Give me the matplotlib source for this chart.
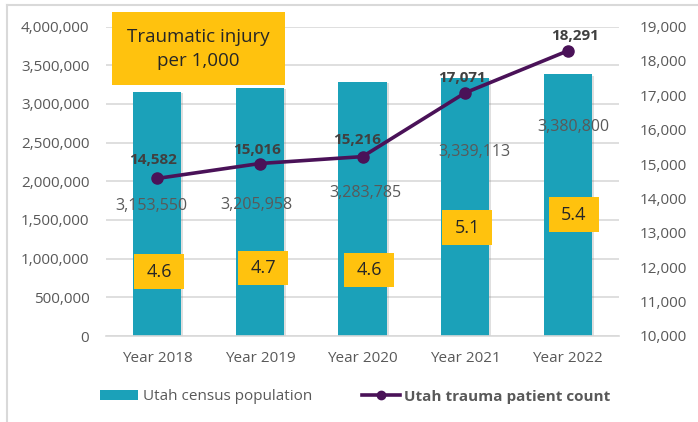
import numpy as np
import matplotlib
matplotlib.use('Agg')
import matplotlib.pyplot as plt
from matplotlib.patches import Rectangle, Patch
from matplotlib.lines import Line2D
from matplotlib.ticker import FuncFormatter, MultipleLocator
import matplotlib.patheffects as pe

plt.rcParams['font.family'] = ['Open Sans', 'DejaVu Sans']

# data
years = ['Year 2018', 'Year 2019', 'Year 2020', 'Year 2021', 'Year 2022']
population = [3153550, 3205958, 3283785, 3339113, 3380800]
patients = [14582, 15016, 15216, 17071, 18291]
rate_per_1000 = [4.6, 4.7, 4.6, 5.1, 5.4]

# label placement (layout only)
pop_label_y = [1.68e6, 1.69e6, 1.85e6, 2.38e6, 2.70e6]
pop_label_dx = [-0.06, -0.03, 0.03, 0.09, 0.06]
pat_label_off = [(-3, 13), (-2, 10), (-4, 12), (-2, 11), (5, 11)]
rate_box_y = [0.833e6, 0.879e6, 0.853e6, 1.40e6, 1.564e6]
rate_box_dx = [0.02, 0.03, 0.065, 0.02, 0.06]

TEAL = '#1BA1B9'
PURPLE = '#4A1258'
YELLOW = '#FFC20E'
GRAY = '#595959'
GRID = '#D9D9D9'

fig = plt.figure(figsize=(6.98, 4.22), dpi=100)
ax = fig.add_axes([106/698, 1-336/422, 513/698, 309.5/422])
ax2 = ax.twinx()

x = np.arange(len(years))
bars = ax.bar(x, population, width=0.47, color=TEAL, zorder=2)
for b in bars:
    b.set_path_effects([pe.SimplePatchShadow(offset=(1.5, -1), alpha=0.25, shadow_rgbFace='gray'),
                        pe.Normal()])

ax.set_xlim(-0.5, len(years) - 0.5)
ax.set_ylim(0, 4000000)
ax.yaxis.set_major_locator(MultipleLocator(500000))
ax.yaxis.set_major_formatter(FuncFormatter(lambda v, p: f'{int(v):,}'))
ax.grid(axis='y', color=GRID, linewidth=1.2, zorder=0)
ax.set_axisbelow(True)
ax.set_xticks(x)
ax.set_xticklabels(years)
for s in ['top', 'left', 'right']:
    ax.spines[s].set_visible(False)
ax.spines['bottom'].set_color(GRID)
ax.spines['bottom'].set_linewidth(1.2)
ax.tick_params(axis='y', length=0, pad=12, labelsize=11, labelcolor=GRAY)
ax.tick_params(axis='x', length=0, pad=11, labelsize=11, labelcolor=GRAY)

ax2.set_ylim(10000, 19000)
ax2.yaxis.set_major_locator(MultipleLocator(1000))
ax2.yaxis.set_major_formatter(FuncFormatter(lambda v, p: f'{int(v):,}'))
for s in ax2.spines.values():
    s.set_visible(False)
ax2.tick_params(axis='y', length=0, pad=15, labelsize=11, labelcolor=GRAY)

ax2.plot(x, patients, color=PURPLE, linewidth=2.6, marker='o', markersize=8, zorder=5)

# bar value labels
for i, v in enumerate(population):
    ax.text(x[i] + pop_label_dx[i], pop_label_y[i], f'{v:,}', ha='center', va='center',
            fontsize=11.5, color=GRAY, zorder=6)

# line value labels
for i, v in enumerate(patients):
    ax2.annotate(f'{v:,}', (x[i], v), xytext=pat_label_off[i], textcoords='offset points',
                 ha='center', va='center', fontsize=11, fontweight='bold', color='#404040', zorder=7)

# rate boxes
bw, bh = 0.49, 452000
for i, r in enumerate(rate_per_1000):
    cx = x[i] + rate_box_dx[i]
    ax.add_patch(Rectangle((cx - bw/2, rate_box_y[i] - bh/2), bw, bh, facecolor=YELLOW,
                           edgecolor='none', zorder=4))
    ax.text(cx, rate_box_y[i], f'{r}', ha='center', va='center', fontsize=13,
            color='#262626', zorder=6)

# title box
fig.patches.append(Rectangle((112/698, 1-85/422), 173/698, 73/422, transform=fig.transFigure,
                             facecolor=YELLOW, edgecolor='none', zorder=10))
fig.text(198.5/698, 1-49/422, 'Traumatic injury\nper 1,000', ha='center', va='center',
         fontsize=13.5, color='#262626', linespacing=1.45, zorder=11)

# frame
fig.lines.append(Line2D([6.5/698, 6.5/698], [0, 1-5/422], transform=fig.transFigure,
                        color=GRID, linewidth=1.5))
fig.lines.append(Line2D([6.5/698, 1], [1-5/422, 1-5/422], transform=fig.transFigure,
                        color=GRID, linewidth=1.5))

# legend
handles = [Patch(facecolor=TEAL, edgecolor='none'),
           Line2D([], [], color=PURPLE, linewidth=2.6, marker='o', markersize=6)]
leg = fig.legend(handles, ['Utah census population', 'Utah trauma patient count'],
                 loc='center left', bbox_to_anchor=(100/698, 1-397/422), ncol=2,
                 frameon=False, fontsize=11, handlelength=2.5, handletextpad=0.3,
                 columnspacing=3.25, borderpad=0, borderaxespad=0, handleheight=0.6)
for t in leg.get_texts():
    t.set_color(GRAY)
leg.get_texts()[1].set_fontweight('bold')

fig.savefig('out.png', dpi=100)
